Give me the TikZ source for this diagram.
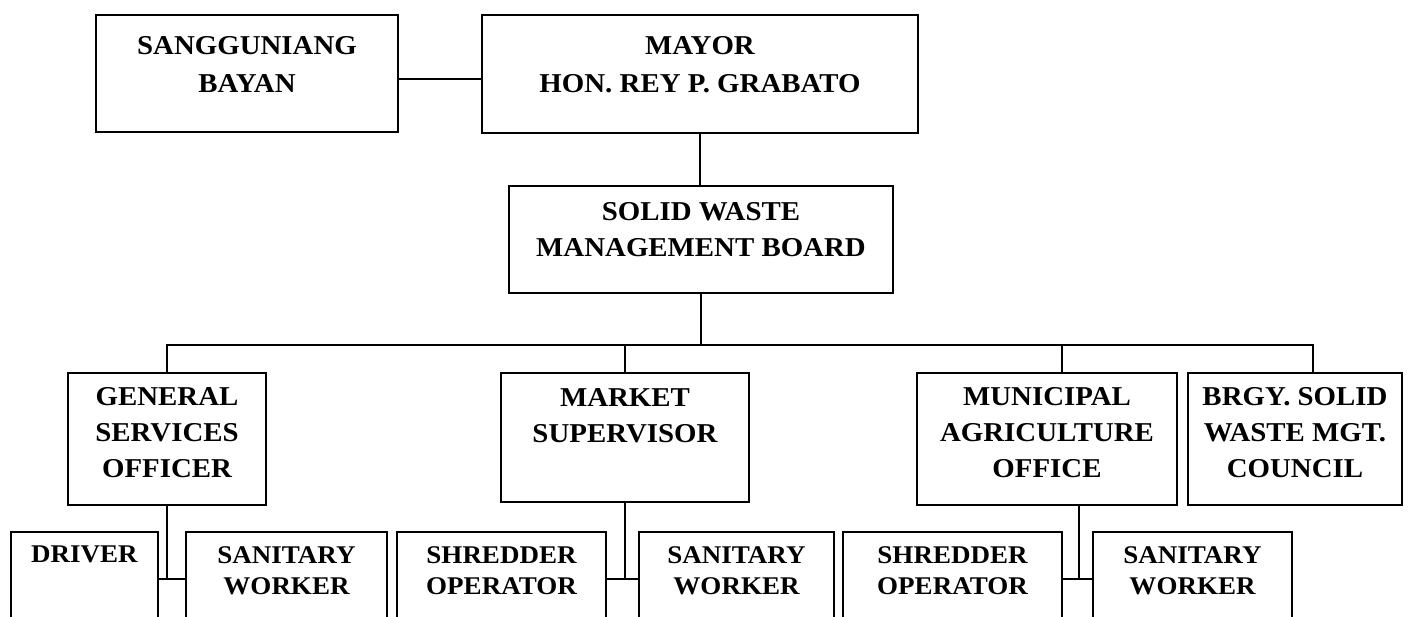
\documentclass[tikz,border=0pt]{standalone}
\usepackage{fontspec}
\setmainfont[FakeStretch=1.06]{Liberation Serif}
\usetikzlibrary{fit,positioning}

\begin{document}
\begin{tikzpicture}[x=0.02cm,y=-0.02cm,line width=1.3pt,
  unit/.style={draw,rectangle,inner sep=0pt},
  caption/.style={anchor=base,align=center,inner sep=0pt,font=\bfseries\fontsize{15.5}{20.5}\selectfont},
  top caption/.style={caption,font=\bfseries\fontsize{15.5}{22}\selectfont},
  small caption/.style={caption,font=\bfseries\fontsize{14.5}{18}\selectfont}]
  \useasboundingbox (0,0) rectangle (1417,617);
  \clip (0,0) rectangle (1417,617);

  % top row (base = last line)
  \node[unit,fit={(96,15) (398,132)}] (sb) {};
  \node[top caption] (sb-t) at (sb.north |- 0,93) {SANGGUNIANG\\BAYAN};
  \node[unit,fit={(482,15) (918,133)}] (mayor) {};
  \node[top caption] (mayor-t) at (mayor.north |- 0,93) {MAYOR\\HON. REY P. GRABATO};

  \node[unit,fit={(509,186) (893,293)}] (swmb) {};
  \node[caption] (swmb-t) at (swmb.north |- 0,257) {SOLID WASTE\\MANAGEMENT BOARD};

  % department heads
  \node[unit,fit={(68,373) (266,505)}] (gso) {};
  \node[caption] (gso-t) at (gso.north |- 0,478) {GENERAL\\SERVICES\\OFFICER};
  \node[unit,fit={(501,373) (749,502)}] (market) {};
  \node[caption] (market-t) at (market.north |- 0,443) {MARKET\\SUPERVISOR};
  \node[unit,fit={(917,373) (1177,505)}] (mao) {};
  \node[caption] (mao-t) at (mao.north |- 0,478) {MUNICIPAL\\AGRICULTURE\\OFFICE};
  \node[unit,fit={(1188,373) (1402,505)}] (brgy) {};
  \node[caption] (brgy-t) at (brgy.north |- 0,478) {BRGY. SOLID\\WASTE MGT.\\COUNCIL};

  % staff
  \node[unit,fit={(11,532) (158,660)}] (driver) {};
  \node[small caption] (driver-t) at (driver.north |- 0,563) {DRIVER};
  \node[unit,fit={(186,532) (387,660)}] (san1) {};
  \node[small caption] (san1-t) at (san1.north |- 0,595) {SANITARY\\WORKER};
  \node[unit,fit={(397,532) (606,660)}] (shr1) {};
  \node[small caption] (shr1-t) at (shr1.north |- 0,595) {SHREDDER\\OPERATOR};
  \node[unit,fit={(639,532) (834,660)}] (san2) {};
  \node[small caption] (san2-t) at (san2.north |- 0,595) {SANITARY\\WORKER};
  \node[unit,fit={(843,532) (1062,660)}] (shr2) {};
  \node[small caption] (shr2-t) at (shr2.north |- 0,595) {SHREDDER\\OPERATOR};
  \node[unit,fit={(1093,532) (1292,660)}] (san3) {};
  \node[small caption] (san3-t) at (san3.north |- 0,595) {SANITARY\\WORKER};

  % lines
  \draw (sb.east |- 0,79) -- (mayor.west |- 0,79);
  \draw (mayor.south) -- (mayor.south |- swmb.north);
  \coordinate (bus) at (swmb.south |- 0,345);
  \draw (swmb.south) -- (bus);
  \draw (bus) -| (gso.north);
  \draw (bus) -| (market.north);
  \draw (bus) -| (mao.north -| 1062,0);
  \draw (bus) -| (brgy.north -| 1313,0);

  \draw (gso.south) -- (gso.south |- 0,579) coordinate (gso-j);
  \draw (driver.east |- gso-j) -- (san1.west |- gso-j);
  \draw (market.south) -- (market.south |- 0,579) coordinate (market-j);
  \draw (shr1.east |- market-j) -- (san2.west |- market-j);
  \draw (mao.south -| 1079,0) -- (1079,579) coordinate (mao-j);
  \draw (shr2.east |- mao-j) -- (san3.west |- mao-j);
\end{tikzpicture}
\end{document}
